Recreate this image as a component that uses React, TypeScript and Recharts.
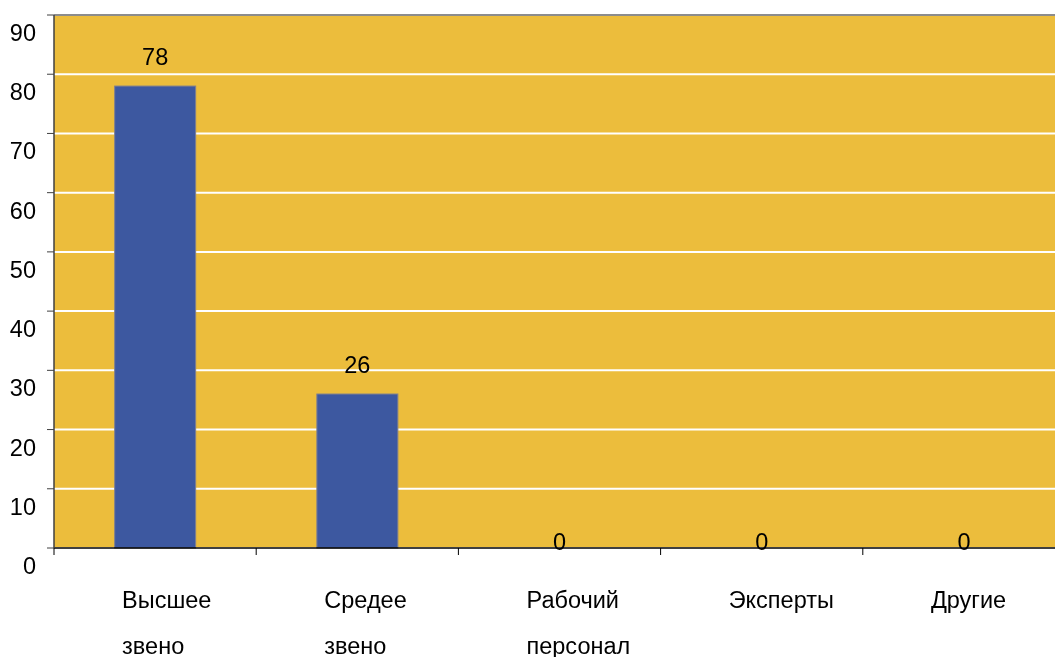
import {
  BarChart,
  Bar,
  XAxis,
  YAxis,
  CartesianGrid,
  ReferenceLine,
} from "recharts";

const categories = [
  "Высшее звено",
  "Средее звено",
  "Рабочий персонал",
  "Эксперты",
  "Другие",
];
const counts = [78, 26, 0, 0, 0];
const yTicks = [0, 10, 20, 30, 40, 50, 60, 70, 80, 90];

const data = categories.map((name, i) => ({ name, value: counts[i] }));

const COLORS = {
  plot: "#ECBD3C",
  bar: "#3D58A0",
  barEdge: "#7F7F8F",
  grid: "#FFFFFF",
  frame: "#8C8C8C",
  text: "#000000",
};

const FONT = "'Liberation Sans', Arial, sans-serif";
const FONT_SIZE = 23.5;

// Подписи оси Y сдвинуты вниз относительно линий сетки
const YTick = ({ x, y, payload }: any) => (
  <text
    x={x}
    y={y + 26}
    textAnchor="end"
    fontSize={FONT_SIZE}
    fontFamily={FONT}
    fill={COLORS.text}
  >
    {payload.value}
  </text>
);

// Категории: засечка на границе полосы и текст в две строки
const XTick = ({ x, y, payload }: any) => {
  const half = payload.offset || 0;
  const lines = String(payload.value).split(" ");
  return (
    <g>
      <line
        x1={x - half}
        x2={x - half}
        y1={y}
        y2={y + 7}
        stroke="#000"
        strokeWidth={1}
      />
      {lines.map((line, i) => (
        <text
          key={i}
          x={x - 33}
          y={y + 60 + i * 46}
          textAnchor="start"
          fontSize={FONT_SIZE}
          fontFamily={FONT}
          fill={COLORS.text}
        >
          {line}
        </text>
      ))}
    </g>
  );
};

// Столбик вместе с подписью значения (нулевые тоже подписываются)
const BarWithLabel = ({ x, y, width, height, value }: any) => {
  const v = Array.isArray(value) ? value[1] - value[0] : value;
  return (
    <g>
      {height > 0 && (
        <rect
          x={x}
          y={y}
          width={width}
          height={height}
          fill={COLORS.bar}
          stroke={COLORS.barEdge}
          strokeWidth={1}
        />
      )}
      <text
        x={x + width / 2}
        y={v > 0 ? y - 21 : y + 2}
        textAnchor="middle"
        fontSize={FONT_SIZE}
        fontFamily={FONT}
        fill={COLORS.text}
      >
        {v}
      </text>
    </g>
  );
};

export default function App() {
  return (
    <div
      style={{
        position: "fixed",
        left: 0,
        top: 0,
        width: 1055,
        height: 657,
        overflow: "hidden",
      }}
    >
      <BarChart
        width={1065}
        height={657}
        data={data}
        margin={{ top: 15, right: 0, bottom: 0, left: 0 }}
        barCategoryGap="30%"
      >
        <CartesianGrid
          vertical={false}
          stroke={COLORS.grid}
          strokeWidth={2}
          fill={COLORS.plot}
          fillOpacity={1}
        />
        <ReferenceLine y={90} stroke={COLORS.frame} strokeWidth={2} />
        <XAxis
          dataKey="name"
          height={109}
          tickSize={0}
          tickMargin={0}
          tickLine={false}
          axisLine={{ stroke: "#000", strokeWidth: 1.5 }}
          tick={<XTick />}
          interval={0}
        />
        <YAxis
          width={54}
          domain={[0, 90]}
          ticks={yTicks}
          tickSize={7}
          tickMargin={11}
          axisLine={{ stroke: "#404040", strokeWidth: 1.5 }}
          tickLine={{ stroke: "#404040" }}
          tick={<YTick />}
          interval={0}
        />
        <Bar
          dataKey="value"
          shape={<BarWithLabel />}
          isAnimationActive={false}
        />
      </BarChart>
    </div>
  );
}
